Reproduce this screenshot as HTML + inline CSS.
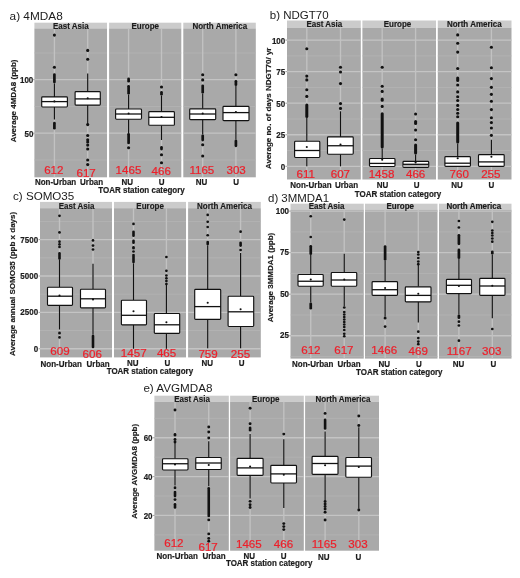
<!DOCTYPE html>
<html><head><meta charset="utf-8"><style>
html,body{margin:0;padding:0;background:#fff;}
svg{display:block;filter:blur(0.35px);}
text{font-family:"Liberation Sans", sans-serif;}
</style></head><body>
<svg width="520" height="578" viewBox="0 0 520 578">
<rect x="0" y="0" width="520" height="578" fill="#fff"/>
<text x="9.60" y="19.50" font-size="11.80" font-weight="normal" fill="#1c1c1c">a) 4MDA8</text>
<rect x="34.40" y="22.70" width="72.60" height="5.70" fill="#cbcbcb"/>
<rect x="34.40" y="28.40" width="72.60" height="148.90" fill="#a9a9a9"/>
<line x1="34.40" y1="159.95" x2="107.00" y2="159.95" stroke="#b6b6b6" stroke-width="0.7" stroke-linecap="butt"/>
<line x1="34.40" y1="106.45" x2="107.00" y2="106.45" stroke="#b6b6b6" stroke-width="0.7" stroke-linecap="butt"/>
<line x1="34.40" y1="52.95" x2="107.00" y2="52.95" stroke="#b6b6b6" stroke-width="0.7" stroke-linecap="butt"/>
<line x1="34.40" y1="133.20" x2="107.00" y2="133.20" stroke="#c4c4c4" stroke-width="1.3" stroke-linecap="butt"/>
<line x1="34.40" y1="79.70" x2="107.00" y2="79.70" stroke="#c4c4c4" stroke-width="1.3" stroke-linecap="butt"/>
<line x1="54.40" y1="28.40" x2="54.40" y2="177.30" stroke="#c2c2c2" stroke-width="1.35" stroke-linecap="butt"/>
<line x1="87.70" y1="28.40" x2="87.70" y2="177.30" stroke="#c2c2c2" stroke-width="1.35" stroke-linecap="butt"/>
<text transform="translate(53.00,28.60) scale(1,1.04)" x="0" y="0" font-size="8.00" font-weight="bold" fill="#1c1c1c" stroke="#1c1c1c" stroke-width="0.18">East Asia</text>
<rect x="109.10" y="22.70" width="72.20" height="5.70" fill="#cbcbcb"/>
<rect x="109.10" y="28.40" width="72.20" height="148.90" fill="#a9a9a9"/>
<line x1="109.10" y1="159.95" x2="181.30" y2="159.95" stroke="#b6b6b6" stroke-width="0.7" stroke-linecap="butt"/>
<line x1="109.10" y1="106.45" x2="181.30" y2="106.45" stroke="#b6b6b6" stroke-width="0.7" stroke-linecap="butt"/>
<line x1="109.10" y1="52.95" x2="181.30" y2="52.95" stroke="#b6b6b6" stroke-width="0.7" stroke-linecap="butt"/>
<line x1="109.10" y1="133.20" x2="181.30" y2="133.20" stroke="#c4c4c4" stroke-width="1.3" stroke-linecap="butt"/>
<line x1="109.10" y1="79.70" x2="181.30" y2="79.70" stroke="#c4c4c4" stroke-width="1.3" stroke-linecap="butt"/>
<line x1="128.60" y1="28.40" x2="128.60" y2="177.30" stroke="#c2c2c2" stroke-width="1.35" stroke-linecap="butt"/>
<line x1="161.50" y1="28.40" x2="161.50" y2="177.30" stroke="#c2c2c2" stroke-width="1.35" stroke-linecap="butt"/>
<text transform="translate(131.49,28.50) scale(1,1.04)" x="0" y="0" font-size="8.00" font-weight="bold" fill="#1c1c1c" stroke="#1c1c1c" stroke-width="0.18">Europe</text>
<rect x="183.30" y="22.70" width="72.50" height="5.70" fill="#cbcbcb"/>
<rect x="183.30" y="28.40" width="72.50" height="148.90" fill="#a9a9a9"/>
<line x1="183.30" y1="159.95" x2="255.80" y2="159.95" stroke="#b6b6b6" stroke-width="0.7" stroke-linecap="butt"/>
<line x1="183.30" y1="106.45" x2="255.80" y2="106.45" stroke="#b6b6b6" stroke-width="0.7" stroke-linecap="butt"/>
<line x1="183.30" y1="52.95" x2="255.80" y2="52.95" stroke="#b6b6b6" stroke-width="0.7" stroke-linecap="butt"/>
<line x1="183.30" y1="133.20" x2="255.80" y2="133.20" stroke="#c4c4c4" stroke-width="1.3" stroke-linecap="butt"/>
<line x1="183.30" y1="79.70" x2="255.80" y2="79.70" stroke="#c4c4c4" stroke-width="1.3" stroke-linecap="butt"/>
<line x1="202.70" y1="28.40" x2="202.70" y2="177.30" stroke="#c2c2c2" stroke-width="1.35" stroke-linecap="butt"/>
<line x1="235.90" y1="28.40" x2="235.90" y2="177.30" stroke="#c2c2c2" stroke-width="1.35" stroke-linecap="butt"/>
<text transform="translate(192.39,28.60) scale(1,1.04)" x="0" y="0" font-size="8.00" font-weight="bold" fill="#1c1c1c" stroke="#1c1c1c" stroke-width="0.18">North America</text>
<text transform="translate(19.98,83.10) scale(1,1.04)" x="0" y="0" font-size="8.00" font-weight="bold" fill="#1c1c1c" stroke="#1c1c1c" stroke-width="0.18">100</text>
<line x1="32.80" y1="79.70" x2="34.40" y2="79.70" stroke="#8a8a8a" stroke-width="0.8" stroke-linecap="butt"/>
<text transform="translate(24.43,136.60) scale(1,1.04)" x="0" y="0" font-size="8.00" font-weight="bold" fill="#1c1c1c" stroke="#1c1c1c" stroke-width="0.18">50</text>
<line x1="32.80" y1="133.20" x2="34.40" y2="133.20" stroke="#8a8a8a" stroke-width="0.8" stroke-linecap="butt"/>
<text transform="translate(15.50,142.31) rotate(-90) scale(1,1.0)" x="0" y="0" font-size="8.00" font-weight="bold" fill="#1c1c1c" stroke="#1c1c1c" stroke-width="0.18">Average 4MDA8 (ppb)</text>
<line x1="54.40" y1="83.40" x2="54.40" y2="96.90" stroke="#111111" stroke-width="1.15" stroke-linecap="butt"/>
<line x1="54.40" y1="107.00" x2="54.40" y2="119.50" stroke="#111111" stroke-width="1.15" stroke-linecap="butt"/>
<line x1="54.40" y1="74.55" x2="54.40" y2="82.05" stroke="#111111" stroke-width="2.7" stroke-linecap="round"/>
<circle cx="54.40" cy="67.30" r="1.55" fill="#111111"/>
<circle cx="54.40" cy="35.10" r="1.55" fill="#111111"/>
<line x1="54.40" y1="123.15" x2="54.40" y2="128.25" stroke="#111111" stroke-width="2.7" stroke-linecap="round"/>
<rect x="41.70" y="96.90" width="25.70" height="10.10" rx="0.9" fill="#fff" stroke="#111111" stroke-width="1.15" stroke-linejoin="round"/>
<line x1="41.70" y1="101.60" x2="67.40" y2="101.60" stroke="#111111" stroke-width="1.2999999999999998" stroke-linecap="butt"/>
<circle cx="54.40" cy="101.40" r="1.05" fill="#111111"/>
<line x1="87.70" y1="73.60" x2="87.70" y2="91.60" stroke="#111111" stroke-width="1.15" stroke-linecap="butt"/>
<line x1="87.70" y1="105.10" x2="87.70" y2="125.00" stroke="#111111" stroke-width="1.15" stroke-linecap="butt"/>
<circle cx="87.70" cy="59.20" r="1.55" fill="#111111"/>
<circle cx="87.70" cy="50.40" r="1.55" fill="#111111"/>
<circle cx="87.70" cy="124.60" r="1.55" fill="#111111"/>
<circle cx="87.70" cy="135.50" r="1.55" fill="#111111"/>
<circle cx="87.70" cy="139.70" r="1.55" fill="#111111"/>
<circle cx="87.70" cy="142.00" r="1.55" fill="#111111"/>
<circle cx="87.70" cy="145.10" r="1.55" fill="#111111"/>
<circle cx="87.70" cy="149.00" r="1.55" fill="#111111"/>
<circle cx="87.70" cy="160.00" r="1.55" fill="#111111"/>
<circle cx="87.70" cy="164.60" r="1.55" fill="#111111"/>
<rect x="75.10" y="91.60" width="25.20" height="13.50" rx="0.9" fill="#fff" stroke="#111111" stroke-width="1.15" stroke-linejoin="round"/>
<line x1="75.10" y1="98.90" x2="100.30" y2="98.90" stroke="#111111" stroke-width="1.2999999999999998" stroke-linecap="butt"/>
<circle cx="87.70" cy="98.30" r="1.05" fill="#111111"/>
<line x1="128.60" y1="94.60" x2="128.60" y2="109.00" stroke="#111111" stroke-width="1.15" stroke-linecap="butt"/>
<line x1="128.60" y1="119.20" x2="128.60" y2="133.00" stroke="#111111" stroke-width="1.15" stroke-linecap="butt"/>
<line x1="128.60" y1="78.85" x2="128.60" y2="81.15" stroke="#111111" stroke-width="2.7" stroke-linecap="round"/>
<line x1="128.60" y1="86.35" x2="128.60" y2="93.25" stroke="#111111" stroke-width="2.7" stroke-linecap="round"/>
<line x1="128.60" y1="134.35" x2="128.60" y2="142.95" stroke="#111111" stroke-width="2.7" stroke-linecap="round"/>
<circle cx="128.60" cy="147.80" r="1.55" fill="#111111"/>
<rect x="115.60" y="109.00" width="25.90" height="10.20" rx="0.9" fill="#fff" stroke="#111111" stroke-width="1.15" stroke-linejoin="round"/>
<line x1="115.60" y1="114.00" x2="141.50" y2="114.00" stroke="#111111" stroke-width="1.2999999999999998" stroke-linecap="butt"/>
<circle cx="128.60" cy="113.50" r="1.05" fill="#111111"/>
<line x1="161.50" y1="95.50" x2="161.50" y2="111.60" stroke="#111111" stroke-width="1.15" stroke-linecap="butt"/>
<line x1="161.50" y1="125.30" x2="161.50" y2="140.00" stroke="#111111" stroke-width="1.15" stroke-linecap="butt"/>
<circle cx="161.50" cy="87.00" r="1.55" fill="#111111"/>
<line x1="161.50" y1="92.35" x2="161.50" y2="94.15" stroke="#111111" stroke-width="2.7" stroke-linecap="round"/>
<line x1="161.50" y1="147.35" x2="161.50" y2="149.05" stroke="#111111" stroke-width="2.7" stroke-linecap="round"/>
<circle cx="161.50" cy="154.70" r="1.55" fill="#111111"/>
<circle cx="161.50" cy="162.80" r="1.55" fill="#111111"/>
<rect x="148.80" y="111.60" width="25.60" height="13.70" rx="0.9" fill="#fff" stroke="#111111" stroke-width="1.15" stroke-linejoin="round"/>
<line x1="148.80" y1="117.30" x2="174.40" y2="117.30" stroke="#111111" stroke-width="1.2999999999999998" stroke-linecap="butt"/>
<circle cx="161.50" cy="117.00" r="1.05" fill="#111111"/>
<line x1="202.70" y1="93.70" x2="202.70" y2="108.80" stroke="#111111" stroke-width="1.15" stroke-linecap="butt"/>
<line x1="202.70" y1="119.60" x2="202.70" y2="134.40" stroke="#111111" stroke-width="1.15" stroke-linecap="butt"/>
<circle cx="202.70" cy="74.70" r="1.55" fill="#111111"/>
<circle cx="202.70" cy="79.90" r="1.55" fill="#111111"/>
<line x1="202.70" y1="85.85" x2="202.70" y2="92.35" stroke="#111111" stroke-width="2.7" stroke-linecap="round"/>
<line x1="202.70" y1="135.75" x2="202.70" y2="140.05" stroke="#111111" stroke-width="2.7" stroke-linecap="round"/>
<circle cx="202.70" cy="144.70" r="1.55" fill="#111111"/>
<circle cx="202.70" cy="156.00" r="1.55" fill="#111111"/>
<rect x="189.70" y="108.80" width="26.00" height="10.80" rx="0.9" fill="#fff" stroke="#111111" stroke-width="1.15" stroke-linejoin="round"/>
<line x1="189.70" y1="114.00" x2="215.70" y2="114.00" stroke="#111111" stroke-width="1.2999999999999998" stroke-linecap="butt"/>
<circle cx="202.70" cy="113.50" r="1.05" fill="#111111"/>
<line x1="235.90" y1="86.00" x2="235.90" y2="106.40" stroke="#111111" stroke-width="1.15" stroke-linecap="butt"/>
<line x1="235.90" y1="120.60" x2="235.90" y2="139.60" stroke="#111111" stroke-width="1.15" stroke-linecap="butt"/>
<circle cx="235.90" cy="74.70" r="1.55" fill="#111111"/>
<line x1="235.90" y1="81.35" x2="235.90" y2="84.65" stroke="#111111" stroke-width="2.7" stroke-linecap="round"/>
<line x1="235.90" y1="140.95" x2="235.90" y2="145.85" stroke="#111111" stroke-width="2.7" stroke-linecap="round"/>
<rect x="223.00" y="106.40" width="26.00" height="14.20" rx="0.9" fill="#fff" stroke="#111111" stroke-width="1.15" stroke-linejoin="round"/>
<line x1="223.00" y1="112.60" x2="249.00" y2="112.60" stroke="#111111" stroke-width="1.2999999999999998" stroke-linecap="butt"/>
<circle cx="235.90" cy="112.00" r="1.05" fill="#111111"/>
<text transform="translate(44.17,173.80) scale(1,1.02)" x="0" y="0" font-size="11.60" font-weight="normal" fill="#ee1f2a" stroke="#ee1f2a" stroke-width="0.22">612</text>
<text transform="translate(76.47,176.80) scale(1,1.02)" x="0" y="0" font-size="11.60" font-weight="normal" fill="#ee1f2a" stroke="#ee1f2a" stroke-width="0.22">617</text>
<text transform="translate(115.60,174.20) scale(1,1.02)" x="0" y="0" font-size="11.60" font-weight="normal" fill="#ee1f2a" stroke="#ee1f2a" stroke-width="0.22">1465</text>
<text transform="translate(151.54,175.00) scale(1,1.02)" x="0" y="0" font-size="11.60" font-weight="normal" fill="#ee1f2a" stroke="#ee1f2a" stroke-width="0.22">466</text>
<text transform="translate(189.40,173.70) scale(1,1.02)" x="0" y="0" font-size="11.60" font-weight="normal" fill="#ee1f2a" stroke="#ee1f2a" stroke-width="0.22">1165</text>
<text transform="translate(226.46,174.00) scale(1,1.02)" x="0" y="0" font-size="11.60" font-weight="normal" fill="#ee1f2a" stroke="#ee1f2a" stroke-width="0.22">303</text>
<text transform="translate(34.92,184.90) scale(1,1.04)" x="0" y="0" font-size="8.00" font-weight="bold" fill="#1c1c1c" stroke="#1c1c1c" stroke-width="0.18">Non-Urban</text>
<text transform="translate(80.00,184.90) scale(1,1.04)" x="0" y="0" font-size="8.00" font-weight="bold" fill="#1c1c1c" stroke="#1c1c1c" stroke-width="0.18">Urban</text>
<text transform="translate(121.40,185.20) scale(1,1.04)" x="0" y="0" font-size="8.00" font-weight="bold" fill="#1c1c1c" stroke="#1c1c1c" stroke-width="0.18">NU</text>
<text transform="translate(158.72,185.20) scale(1,1.04)" x="0" y="0" font-size="8.00" font-weight="bold" fill="#1c1c1c" stroke="#1c1c1c" stroke-width="0.18">U</text>
<text transform="translate(195.80,185.40) scale(1,1.04)" x="0" y="0" font-size="8.00" font-weight="bold" fill="#1c1c1c" stroke="#1c1c1c" stroke-width="0.18">NU</text>
<text transform="translate(233.22,185.40) scale(1,1.04)" x="0" y="0" font-size="8.00" font-weight="bold" fill="#1c1c1c" stroke="#1c1c1c" stroke-width="0.18">U</text>
<text transform="translate(98.29,193.40) scale(1,1.04)" x="0" y="0" font-size="8.00" font-weight="bold" fill="#1c1c1c" stroke="#1c1c1c" stroke-width="0.18">TOAR station category</text>
<text x="269.81" y="18.90" font-size="11.50" font-weight="normal" fill="#1c1c1c">b) NDGT70</text>
<rect x="287.00" y="20.50" width="73.80" height="7.20" fill="#cbcbcb"/>
<rect x="287.00" y="27.70" width="73.80" height="151.80" fill="#a9a9a9"/>
<line x1="287.00" y1="150.53" x2="360.80" y2="150.53" stroke="#b6b6b6" stroke-width="0.7" stroke-linecap="butt"/>
<line x1="287.00" y1="118.98" x2="360.80" y2="118.98" stroke="#b6b6b6" stroke-width="0.7" stroke-linecap="butt"/>
<line x1="287.00" y1="87.43" x2="360.80" y2="87.43" stroke="#b6b6b6" stroke-width="0.7" stroke-linecap="butt"/>
<line x1="287.00" y1="55.88" x2="360.80" y2="55.88" stroke="#b6b6b6" stroke-width="0.7" stroke-linecap="butt"/>
<line x1="287.00" y1="166.30" x2="360.80" y2="166.30" stroke="#c4c4c4" stroke-width="1.3" stroke-linecap="butt"/>
<line x1="287.00" y1="134.75" x2="360.80" y2="134.75" stroke="#c4c4c4" stroke-width="1.3" stroke-linecap="butt"/>
<line x1="287.00" y1="103.20" x2="360.80" y2="103.20" stroke="#c4c4c4" stroke-width="1.3" stroke-linecap="butt"/>
<line x1="287.00" y1="71.65" x2="360.80" y2="71.65" stroke="#c4c4c4" stroke-width="1.3" stroke-linecap="butt"/>
<line x1="287.00" y1="40.10" x2="360.80" y2="40.10" stroke="#c4c4c4" stroke-width="1.3" stroke-linecap="butt"/>
<line x1="306.80" y1="27.70" x2="306.80" y2="179.50" stroke="#c2c2c2" stroke-width="1.35" stroke-linecap="butt"/>
<line x1="340.50" y1="27.70" x2="340.50" y2="179.50" stroke="#c2c2c2" stroke-width="1.35" stroke-linecap="butt"/>
<text transform="translate(306.50,26.80) scale(1,1.04)" x="0" y="0" font-size="8.00" font-weight="bold" fill="#1c1c1c" stroke="#1c1c1c" stroke-width="0.18">East Asia</text>
<rect x="362.40" y="20.50" width="73.60" height="7.20" fill="#cbcbcb"/>
<rect x="362.40" y="27.70" width="73.60" height="151.80" fill="#a9a9a9"/>
<line x1="362.40" y1="150.53" x2="436.00" y2="150.53" stroke="#b6b6b6" stroke-width="0.7" stroke-linecap="butt"/>
<line x1="362.40" y1="118.98" x2="436.00" y2="118.98" stroke="#b6b6b6" stroke-width="0.7" stroke-linecap="butt"/>
<line x1="362.40" y1="87.43" x2="436.00" y2="87.43" stroke="#b6b6b6" stroke-width="0.7" stroke-linecap="butt"/>
<line x1="362.40" y1="55.88" x2="436.00" y2="55.88" stroke="#b6b6b6" stroke-width="0.7" stroke-linecap="butt"/>
<line x1="362.40" y1="166.30" x2="436.00" y2="166.30" stroke="#c4c4c4" stroke-width="1.3" stroke-linecap="butt"/>
<line x1="362.40" y1="134.75" x2="436.00" y2="134.75" stroke="#c4c4c4" stroke-width="1.3" stroke-linecap="butt"/>
<line x1="362.40" y1="103.20" x2="436.00" y2="103.20" stroke="#c4c4c4" stroke-width="1.3" stroke-linecap="butt"/>
<line x1="362.40" y1="71.65" x2="436.00" y2="71.65" stroke="#c4c4c4" stroke-width="1.3" stroke-linecap="butt"/>
<line x1="362.40" y1="40.10" x2="436.00" y2="40.10" stroke="#c4c4c4" stroke-width="1.3" stroke-linecap="butt"/>
<line x1="382.20" y1="27.70" x2="382.20" y2="179.50" stroke="#c2c2c2" stroke-width="1.35" stroke-linecap="butt"/>
<line x1="415.60" y1="27.70" x2="415.60" y2="179.50" stroke="#c2c2c2" stroke-width="1.35" stroke-linecap="butt"/>
<text transform="translate(383.74,26.80) scale(1,1.04)" x="0" y="0" font-size="8.00" font-weight="bold" fill="#1c1c1c" stroke="#1c1c1c" stroke-width="0.18">Europe</text>
<rect x="437.80" y="20.50" width="73.70" height="7.20" fill="#cbcbcb"/>
<rect x="437.80" y="27.70" width="73.70" height="151.80" fill="#a9a9a9"/>
<line x1="437.80" y1="150.53" x2="511.50" y2="150.53" stroke="#b6b6b6" stroke-width="0.7" stroke-linecap="butt"/>
<line x1="437.80" y1="118.98" x2="511.50" y2="118.98" stroke="#b6b6b6" stroke-width="0.7" stroke-linecap="butt"/>
<line x1="437.80" y1="87.43" x2="511.50" y2="87.43" stroke="#b6b6b6" stroke-width="0.7" stroke-linecap="butt"/>
<line x1="437.80" y1="55.88" x2="511.50" y2="55.88" stroke="#b6b6b6" stroke-width="0.7" stroke-linecap="butt"/>
<line x1="437.80" y1="166.30" x2="511.50" y2="166.30" stroke="#c4c4c4" stroke-width="1.3" stroke-linecap="butt"/>
<line x1="437.80" y1="134.75" x2="511.50" y2="134.75" stroke="#c4c4c4" stroke-width="1.3" stroke-linecap="butt"/>
<line x1="437.80" y1="103.20" x2="511.50" y2="103.20" stroke="#c4c4c4" stroke-width="1.3" stroke-linecap="butt"/>
<line x1="437.80" y1="71.65" x2="511.50" y2="71.65" stroke="#c4c4c4" stroke-width="1.3" stroke-linecap="butt"/>
<line x1="437.80" y1="40.10" x2="511.50" y2="40.10" stroke="#c4c4c4" stroke-width="1.3" stroke-linecap="butt"/>
<line x1="457.70" y1="27.70" x2="457.70" y2="179.50" stroke="#c2c2c2" stroke-width="1.35" stroke-linecap="butt"/>
<line x1="491.40" y1="27.70" x2="491.40" y2="179.50" stroke="#c2c2c2" stroke-width="1.35" stroke-linecap="butt"/>
<text transform="translate(446.94,26.80) scale(1,1.04)" x="0" y="0" font-size="8.00" font-weight="bold" fill="#1c1c1c" stroke="#1c1c1c" stroke-width="0.18">North America</text>
<text transform="translate(280.78,169.80) scale(1,1.04)" x="0" y="0" font-size="8.00" font-weight="bold" fill="#1c1c1c" stroke="#1c1c1c" stroke-width="0.18">0</text>
<line x1="285.40" y1="166.30" x2="287.00" y2="166.30" stroke="#8a8a8a" stroke-width="0.8" stroke-linecap="butt"/>
<text transform="translate(276.22,138.25) scale(1,1.04)" x="0" y="0" font-size="8.00" font-weight="bold" fill="#1c1c1c" stroke="#1c1c1c" stroke-width="0.18">25</text>
<line x1="285.40" y1="134.75" x2="287.00" y2="134.75" stroke="#8a8a8a" stroke-width="0.8" stroke-linecap="butt"/>
<text transform="translate(276.33,106.70) scale(1,1.04)" x="0" y="0" font-size="8.00" font-weight="bold" fill="#1c1c1c" stroke="#1c1c1c" stroke-width="0.18">50</text>
<line x1="285.40" y1="103.20" x2="287.00" y2="103.20" stroke="#8a8a8a" stroke-width="0.8" stroke-linecap="butt"/>
<text transform="translate(276.22,75.15) scale(1,1.04)" x="0" y="0" font-size="8.00" font-weight="bold" fill="#1c1c1c" stroke="#1c1c1c" stroke-width="0.18">75</text>
<line x1="285.40" y1="71.65" x2="287.00" y2="71.65" stroke="#8a8a8a" stroke-width="0.8" stroke-linecap="butt"/>
<text transform="translate(271.88,43.60) scale(1,1.04)" x="0" y="0" font-size="8.00" font-weight="bold" fill="#1c1c1c" stroke="#1c1c1c" stroke-width="0.18">100</text>
<line x1="285.40" y1="40.10" x2="287.00" y2="40.10" stroke="#8a8a8a" stroke-width="0.8" stroke-linecap="butt"/>
<text transform="translate(270.90,169.05) rotate(-90) scale(1,1.0)" x="0" y="0" font-size="8.00" font-weight="bold" fill="#1c1c1c" stroke="#1c1c1c" stroke-width="0.18">Average no. of days NDGT70/ yr</text>
<line x1="306.80" y1="118.10" x2="306.80" y2="141.25" stroke="#111111" stroke-width="1.15" stroke-linecap="butt"/>
<line x1="306.80" y1="157.50" x2="306.80" y2="166.30" stroke="#111111" stroke-width="1.15" stroke-linecap="butt"/>
<circle cx="306.80" cy="48.70" r="1.55" fill="#111111"/>
<circle cx="306.80" cy="76.10" r="1.55" fill="#111111"/>
<circle cx="306.80" cy="79.90" r="1.55" fill="#111111"/>
<circle cx="306.80" cy="89.75" r="1.55" fill="#111111"/>
<circle cx="306.80" cy="96.40" r="1.55" fill="#111111"/>
<line x1="306.80" y1="105.10" x2="306.80" y2="116.60" stroke="#111111" stroke-width="3.0" stroke-linecap="round"/>
<rect x="294.60" y="141.25" width="25.20" height="16.25" rx="0.9" fill="#fff" stroke="#111111" stroke-width="1.15" stroke-linejoin="round"/>
<line x1="294.60" y1="150.50" x2="319.80" y2="150.50" stroke="#111111" stroke-width="1.2999999999999998" stroke-linecap="butt"/>
<circle cx="306.80" cy="147.00" r="1.05" fill="#111111"/>
<line x1="340.50" y1="111.30" x2="340.50" y2="136.90" stroke="#111111" stroke-width="1.15" stroke-linecap="butt"/>
<line x1="340.50" y1="154.25" x2="340.50" y2="166.30" stroke="#111111" stroke-width="1.15" stroke-linecap="butt"/>
<circle cx="340.50" cy="67.30" r="1.55" fill="#111111"/>
<circle cx="340.50" cy="72.00" r="1.55" fill="#111111"/>
<circle cx="340.50" cy="83.60" r="1.55" fill="#111111"/>
<circle cx="340.50" cy="103.60" r="1.55" fill="#111111"/>
<circle cx="340.50" cy="108.40" r="1.55" fill="#111111"/>
<rect x="327.50" y="136.90" width="25.75" height="17.35" rx="0.9" fill="#fff" stroke="#111111" stroke-width="1.15" stroke-linejoin="round"/>
<line x1="327.50" y1="145.75" x2="353.25" y2="145.75" stroke="#111111" stroke-width="1.2999999999999998" stroke-linecap="butt"/>
<circle cx="340.50" cy="144.50" r="1.05" fill="#111111"/>
<line x1="382.20" y1="148.40" x2="382.20" y2="158.50" stroke="#111111" stroke-width="1.15" stroke-linecap="butt"/>
<line x1="382.20" y1="166.50" x2="382.20" y2="166.50" stroke="#111111" stroke-width="1.15" stroke-linecap="butt"/>
<circle cx="382.20" cy="67.30" r="1.55" fill="#111111"/>
<circle cx="382.20" cy="86.20" r="1.55" fill="#111111"/>
<circle cx="382.20" cy="91.40" r="1.55" fill="#111111"/>
<line x1="382.20" y1="99.00" x2="382.20" y2="100.20" stroke="#111111" stroke-width="3.0" stroke-linecap="round"/>
<line x1="382.20" y1="106.20" x2="382.20" y2="106.40" stroke="#111111" stroke-width="3.0" stroke-linecap="round"/>
<line x1="382.20" y1="113.80" x2="382.20" y2="146.90" stroke="#111111" stroke-width="3.0" stroke-linecap="round"/>
<rect x="369.50" y="158.50" width="25.50" height="8.00" rx="0.9" fill="#fff" stroke="#111111" stroke-width="1.15" stroke-linejoin="round"/>
<line x1="369.50" y1="163.40" x2="395.00" y2="163.40" stroke="#111111" stroke-width="1.2999999999999998" stroke-linecap="butt"/>
<circle cx="382.20" cy="159.80" r="1.05" fill="#111111"/>
<line x1="415.60" y1="154.50" x2="415.60" y2="161.30" stroke="#111111" stroke-width="1.15" stroke-linecap="butt"/>
<line x1="415.60" y1="167.40" x2="415.60" y2="167.40" stroke="#111111" stroke-width="1.15" stroke-linecap="butt"/>
<circle cx="415.60" cy="114.00" r="1.55" fill="#111111"/>
<line x1="415.60" y1="121.60" x2="415.60" y2="123.50" stroke="#111111" stroke-width="3.0" stroke-linecap="round"/>
<circle cx="415.60" cy="129.95" r="1.55" fill="#111111"/>
<circle cx="415.60" cy="139.80" r="1.55" fill="#111111"/>
<line x1="415.60" y1="145.00" x2="415.60" y2="153.00" stroke="#111111" stroke-width="3.0" stroke-linecap="round"/>
<rect x="403.00" y="161.30" width="25.70" height="6.10" rx="0.9" fill="#fff" stroke="#111111" stroke-width="1.15" stroke-linejoin="round"/>
<rect x="403.60" y="164.30" width="24.50" height="2.50" fill="#b3b3b3"/>
<line x1="403.00" y1="164.30" x2="428.70" y2="164.30" stroke="#111111" stroke-width="1.2999999999999998" stroke-linecap="butt"/>
<circle cx="415.60" cy="162.40" r="1.05" fill="#111111"/>
<line x1="457.70" y1="143.50" x2="457.70" y2="156.60" stroke="#111111" stroke-width="1.15" stroke-linecap="butt"/>
<line x1="457.70" y1="166.30" x2="457.70" y2="166.30" stroke="#111111" stroke-width="1.15" stroke-linecap="butt"/>
<circle cx="457.70" cy="34.90" r="1.55" fill="#111111"/>
<circle cx="457.70" cy="43.20" r="1.55" fill="#111111"/>
<circle cx="457.70" cy="52.10" r="1.55" fill="#111111"/>
<circle cx="457.70" cy="68.55" r="1.55" fill="#111111"/>
<line x1="457.70" y1="77.90" x2="457.70" y2="80.60" stroke="#111111" stroke-width="3.0" stroke-linecap="round"/>
<circle cx="457.70" cy="85.00" r="1.55" fill="#111111"/>
<circle cx="457.70" cy="91.90" r="1.55" fill="#111111"/>
<circle cx="457.70" cy="96.80" r="1.55" fill="#111111"/>
<circle cx="457.70" cy="100.50" r="1.55" fill="#111111"/>
<circle cx="457.70" cy="105.40" r="1.55" fill="#111111"/>
<circle cx="457.70" cy="109.50" r="1.55" fill="#111111"/>
<circle cx="457.70" cy="113.20" r="1.55" fill="#111111"/>
<circle cx="457.70" cy="116.80" r="1.55" fill="#111111"/>
<line x1="457.70" y1="122.90" x2="457.70" y2="142.00" stroke="#111111" stroke-width="3.0" stroke-linecap="round"/>
<rect x="444.90" y="156.60" width="25.50" height="9.70" rx="0.9" fill="#fff" stroke="#111111" stroke-width="1.15" stroke-linejoin="round"/>
<line x1="444.90" y1="163.20" x2="470.40" y2="163.20" stroke="#111111" stroke-width="1.2999999999999998" stroke-linecap="butt"/>
<circle cx="457.70" cy="158.30" r="1.05" fill="#111111"/>
<line x1="491.40" y1="139.80" x2="491.40" y2="154.60" stroke="#111111" stroke-width="1.15" stroke-linecap="butt"/>
<line x1="491.40" y1="166.30" x2="491.40" y2="166.30" stroke="#111111" stroke-width="1.15" stroke-linecap="butt"/>
<circle cx="491.40" cy="47.20" r="1.55" fill="#111111"/>
<circle cx="491.40" cy="67.80" r="1.55" fill="#111111"/>
<circle cx="491.40" cy="78.60" r="1.55" fill="#111111"/>
<circle cx="491.40" cy="87.35" r="1.55" fill="#111111"/>
<circle cx="491.40" cy="94.35" r="1.55" fill="#111111"/>
<circle cx="491.40" cy="101.20" r="1.55" fill="#111111"/>
<circle cx="491.40" cy="109.60" r="1.55" fill="#111111"/>
<circle cx="491.40" cy="117.70" r="1.55" fill="#111111"/>
<circle cx="491.40" cy="122.60" r="1.55" fill="#111111"/>
<circle cx="491.40" cy="128.00" r="1.55" fill="#111111"/>
<circle cx="491.40" cy="135.35" r="1.55" fill="#111111"/>
<rect x="478.50" y="154.60" width="25.70" height="11.70" rx="0.9" fill="#fff" stroke="#111111" stroke-width="1.15" stroke-linejoin="round"/>
<line x1="478.50" y1="161.90" x2="504.20" y2="161.90" stroke="#111111" stroke-width="1.2999999999999998" stroke-linecap="butt"/>
<circle cx="491.40" cy="156.80" r="1.05" fill="#111111"/>
<text transform="translate(296.56,178.00) scale(1,1.02)" x="0" y="0" font-size="11.60" font-weight="normal" fill="#ee1f2a" stroke="#ee1f2a" stroke-width="0.22">611</text>
<text transform="translate(330.70,178.00) scale(1,1.02)" x="0" y="0" font-size="11.60" font-weight="normal" fill="#ee1f2a" stroke="#ee1f2a" stroke-width="0.22">607</text>
<text transform="translate(368.66,178.30) scale(1,1.02)" x="0" y="0" font-size="11.60" font-weight="normal" fill="#ee1f2a" stroke="#ee1f2a" stroke-width="0.22">1458</text>
<text transform="translate(405.94,178.30) scale(1,1.02)" x="0" y="0" font-size="11.60" font-weight="normal" fill="#ee1f2a" stroke="#ee1f2a" stroke-width="0.22">466</text>
<text transform="translate(449.50,177.70) scale(1,1.02)" x="0" y="0" font-size="11.60" font-weight="normal" fill="#ee1f2a" stroke="#ee1f2a" stroke-width="0.22">760</text>
<text transform="translate(481.17,177.70) scale(1,1.02)" x="0" y="0" font-size="11.60" font-weight="normal" fill="#ee1f2a" stroke="#ee1f2a" stroke-width="0.22">255</text>
<text transform="translate(290.32,188.00) scale(1,1.04)" x="0" y="0" font-size="8.00" font-weight="bold" fill="#1c1c1c" stroke="#1c1c1c" stroke-width="0.18">Non-Urban</text>
<text transform="translate(334.95,188.00) scale(1,1.04)" x="0" y="0" font-size="8.00" font-weight="bold" fill="#1c1c1c" stroke="#1c1c1c" stroke-width="0.18">Urban</text>
<text transform="translate(376.75,188.10) scale(1,1.04)" x="0" y="0" font-size="8.00" font-weight="bold" fill="#1c1c1c" stroke="#1c1c1c" stroke-width="0.18">NU</text>
<text transform="translate(413.87,188.10) scale(1,1.04)" x="0" y="0" font-size="8.00" font-weight="bold" fill="#1c1c1c" stroke="#1c1c1c" stroke-width="0.18">U</text>
<text transform="translate(451.30,188.10) scale(1,1.04)" x="0" y="0" font-size="8.00" font-weight="bold" fill="#1c1c1c" stroke="#1c1c1c" stroke-width="0.18">NU</text>
<text transform="translate(488.42,188.10) scale(1,1.04)" x="0" y="0" font-size="8.00" font-weight="bold" fill="#1c1c1c" stroke="#1c1c1c" stroke-width="0.18">U</text>
<text transform="translate(354.84,196.90) scale(1,1.04)" x="0" y="0" font-size="8.00" font-weight="bold" fill="#1c1c1c" stroke="#1c1c1c" stroke-width="0.18">TOAR station category</text>
<text x="13.01" y="199.60" font-size="11.61" font-weight="normal" fill="#1c1c1c">c) SOMO35</text>
<rect x="40.00" y="201.90" width="72.00" height="6.30" fill="#cbcbcb"/>
<rect x="40.00" y="208.20" width="72.00" height="149.20" fill="#a9a9a9"/>
<line x1="40.00" y1="330.56" x2="112.00" y2="330.56" stroke="#b6b6b6" stroke-width="0.7" stroke-linecap="butt"/>
<line x1="40.00" y1="294.19" x2="112.00" y2="294.19" stroke="#b6b6b6" stroke-width="0.7" stroke-linecap="butt"/>
<line x1="40.00" y1="257.81" x2="112.00" y2="257.81" stroke="#b6b6b6" stroke-width="0.7" stroke-linecap="butt"/>
<line x1="40.00" y1="221.44" x2="112.00" y2="221.44" stroke="#b6b6b6" stroke-width="0.7" stroke-linecap="butt"/>
<line x1="40.00" y1="348.75" x2="112.00" y2="348.75" stroke="#c4c4c4" stroke-width="1.3" stroke-linecap="butt"/>
<line x1="40.00" y1="312.38" x2="112.00" y2="312.38" stroke="#c4c4c4" stroke-width="1.3" stroke-linecap="butt"/>
<line x1="40.00" y1="276.00" x2="112.00" y2="276.00" stroke="#c4c4c4" stroke-width="1.3" stroke-linecap="butt"/>
<line x1="40.00" y1="239.62" x2="112.00" y2="239.62" stroke="#c4c4c4" stroke-width="1.3" stroke-linecap="butt"/>
<line x1="59.50" y1="208.20" x2="59.50" y2="357.40" stroke="#c2c2c2" stroke-width="1.35" stroke-linecap="butt"/>
<line x1="93.00" y1="208.20" x2="93.00" y2="357.40" stroke="#c2c2c2" stroke-width="1.35" stroke-linecap="butt"/>
<text transform="translate(58.70,208.60) scale(1,1.04)" x="0" y="0" font-size="8.00" font-weight="bold" fill="#1c1c1c" stroke="#1c1c1c" stroke-width="0.18">East Asia</text>
<rect x="114.00" y="201.90" width="72.00" height="6.30" fill="#cbcbcb"/>
<rect x="114.00" y="208.20" width="72.00" height="149.20" fill="#a9a9a9"/>
<line x1="114.00" y1="330.56" x2="186.00" y2="330.56" stroke="#b6b6b6" stroke-width="0.7" stroke-linecap="butt"/>
<line x1="114.00" y1="294.19" x2="186.00" y2="294.19" stroke="#b6b6b6" stroke-width="0.7" stroke-linecap="butt"/>
<line x1="114.00" y1="257.81" x2="186.00" y2="257.81" stroke="#b6b6b6" stroke-width="0.7" stroke-linecap="butt"/>
<line x1="114.00" y1="221.44" x2="186.00" y2="221.44" stroke="#b6b6b6" stroke-width="0.7" stroke-linecap="butt"/>
<line x1="114.00" y1="348.75" x2="186.00" y2="348.75" stroke="#c4c4c4" stroke-width="1.3" stroke-linecap="butt"/>
<line x1="114.00" y1="312.38" x2="186.00" y2="312.38" stroke="#c4c4c4" stroke-width="1.3" stroke-linecap="butt"/>
<line x1="114.00" y1="276.00" x2="186.00" y2="276.00" stroke="#c4c4c4" stroke-width="1.3" stroke-linecap="butt"/>
<line x1="114.00" y1="239.62" x2="186.00" y2="239.62" stroke="#c4c4c4" stroke-width="1.3" stroke-linecap="butt"/>
<line x1="133.50" y1="208.20" x2="133.50" y2="357.40" stroke="#c2c2c2" stroke-width="1.35" stroke-linecap="butt"/>
<line x1="166.40" y1="208.20" x2="166.40" y2="357.40" stroke="#c2c2c2" stroke-width="1.35" stroke-linecap="butt"/>
<text transform="translate(136.34,208.80) scale(1,1.04)" x="0" y="0" font-size="8.00" font-weight="bold" fill="#1c1c1c" stroke="#1c1c1c" stroke-width="0.18">Europe</text>
<rect x="188.10" y="201.90" width="72.70" height="6.30" fill="#cbcbcb"/>
<rect x="188.10" y="208.20" width="72.70" height="149.20" fill="#a9a9a9"/>
<line x1="188.10" y1="330.56" x2="260.80" y2="330.56" stroke="#b6b6b6" stroke-width="0.7" stroke-linecap="butt"/>
<line x1="188.10" y1="294.19" x2="260.80" y2="294.19" stroke="#b6b6b6" stroke-width="0.7" stroke-linecap="butt"/>
<line x1="188.10" y1="257.81" x2="260.80" y2="257.81" stroke="#b6b6b6" stroke-width="0.7" stroke-linecap="butt"/>
<line x1="188.10" y1="221.44" x2="260.80" y2="221.44" stroke="#b6b6b6" stroke-width="0.7" stroke-linecap="butt"/>
<line x1="188.10" y1="348.75" x2="260.80" y2="348.75" stroke="#c4c4c4" stroke-width="1.3" stroke-linecap="butt"/>
<line x1="188.10" y1="312.38" x2="260.80" y2="312.38" stroke="#c4c4c4" stroke-width="1.3" stroke-linecap="butt"/>
<line x1="188.10" y1="276.00" x2="260.80" y2="276.00" stroke="#c4c4c4" stroke-width="1.3" stroke-linecap="butt"/>
<line x1="188.10" y1="239.62" x2="260.80" y2="239.62" stroke="#c4c4c4" stroke-width="1.3" stroke-linecap="butt"/>
<line x1="207.70" y1="208.20" x2="207.70" y2="357.40" stroke="#c2c2c2" stroke-width="1.35" stroke-linecap="butt"/>
<line x1="240.60" y1="208.20" x2="240.60" y2="357.40" stroke="#c2c2c2" stroke-width="1.35" stroke-linecap="butt"/>
<text transform="translate(197.09,208.60) scale(1,1.04)" x="0" y="0" font-size="8.00" font-weight="bold" fill="#1c1c1c" stroke="#1c1c1c" stroke-width="0.18">North America</text>
<text transform="translate(33.68,351.65) scale(1,1.04)" x="0" y="0" font-size="8.00" font-weight="bold" fill="#1c1c1c" stroke="#1c1c1c" stroke-width="0.18">0</text>
<line x1="38.60" y1="348.75" x2="40.00" y2="348.75" stroke="#8a8a8a" stroke-width="0.8" stroke-linecap="butt"/>
<text transform="translate(20.33,315.27) scale(1,1.04)" x="0" y="0" font-size="8.00" font-weight="bold" fill="#1c1c1c" stroke="#1c1c1c" stroke-width="0.18">2500</text>
<line x1="38.60" y1="312.38" x2="40.00" y2="312.38" stroke="#8a8a8a" stroke-width="0.8" stroke-linecap="butt"/>
<text transform="translate(20.33,278.90) scale(1,1.04)" x="0" y="0" font-size="8.00" font-weight="bold" fill="#1c1c1c" stroke="#1c1c1c" stroke-width="0.18">5000</text>
<line x1="38.60" y1="276.00" x2="40.00" y2="276.00" stroke="#8a8a8a" stroke-width="0.8" stroke-linecap="butt"/>
<text transform="translate(20.33,242.53) scale(1,1.04)" x="0" y="0" font-size="8.00" font-weight="bold" fill="#1c1c1c" stroke="#1c1c1c" stroke-width="0.18">7500</text>
<line x1="38.60" y1="239.62" x2="40.00" y2="239.62" stroke="#8a8a8a" stroke-width="0.8" stroke-linecap="butt"/>
<text transform="translate(14.50,356.04) rotate(-90) scale(1,1.0)" x="0" y="0" font-size="8.00" font-weight="bold" fill="#1c1c1c" stroke="#1c1c1c" stroke-width="0.18">Average annual SOMO35 (ppb x days)</text>
<line x1="59.50" y1="259.90" x2="59.50" y2="287.20" stroke="#111111" stroke-width="1.15" stroke-linecap="butt"/>
<line x1="59.50" y1="305.30" x2="59.50" y2="329.50" stroke="#111111" stroke-width="1.15" stroke-linecap="butt"/>
<circle cx="59.50" cy="215.80" r="1.35" fill="#111111"/>
<circle cx="59.50" cy="232.40" r="1.35" fill="#111111"/>
<circle cx="59.50" cy="241.70" r="1.35" fill="#111111"/>
<circle cx="59.50" cy="244.30" r="1.35" fill="#111111"/>
<circle cx="59.50" cy="246.90" r="1.35" fill="#111111"/>
<line x1="59.50" y1="253.40" x2="59.50" y2="258.60" stroke="#111111" stroke-width="2.6" stroke-linecap="round"/>
<line x1="59.50" y1="332.80" x2="59.50" y2="333.20" stroke="#111111" stroke-width="2.6" stroke-linecap="round"/>
<line x1="59.50" y1="337.30" x2="59.50" y2="337.50" stroke="#111111" stroke-width="2.6" stroke-linecap="round"/>
<rect x="47.50" y="287.20" width="25.00" height="18.10" rx="0.9" fill="#fff" stroke="#111111" stroke-width="1.15" stroke-linejoin="round"/>
<line x1="47.50" y1="296.20" x2="72.50" y2="296.20" stroke="#111111" stroke-width="1.2999999999999998" stroke-linecap="butt"/>
<circle cx="59.50" cy="295.50" r="1.05" fill="#111111"/>
<line x1="93.00" y1="263.80" x2="93.00" y2="289.20" stroke="#111111" stroke-width="1.15" stroke-linecap="butt"/>
<line x1="93.00" y1="307.90" x2="93.00" y2="334.70" stroke="#111111" stroke-width="1.15" stroke-linecap="butt"/>
<circle cx="93.00" cy="240.40" r="1.35" fill="#111111"/>
<circle cx="93.00" cy="245.60" r="1.35" fill="#111111"/>
<circle cx="93.00" cy="249.50" r="1.35" fill="#111111"/>
<line x1="93.00" y1="336.00" x2="93.00" y2="346.90" stroke="#111111" stroke-width="2.6" stroke-linecap="round"/>
<rect x="80.50" y="289.20" width="25.00" height="18.70" rx="0.9" fill="#fff" stroke="#111111" stroke-width="1.15" stroke-linejoin="round"/>
<line x1="80.50" y1="298.80" x2="105.50" y2="298.80" stroke="#111111" stroke-width="1.2999999999999998" stroke-linecap="butt"/>
<circle cx="93.00" cy="299.40" r="1.05" fill="#111111"/>
<line x1="133.50" y1="263.30" x2="133.50" y2="300.20" stroke="#111111" stroke-width="1.15" stroke-linecap="butt"/>
<line x1="133.50" y1="324.80" x2="133.50" y2="348.70" stroke="#111111" stroke-width="1.15" stroke-linecap="butt"/>
<circle cx="133.50" cy="223.90" r="1.35" fill="#111111"/>
<line x1="133.50" y1="231.80" x2="133.50" y2="235.70" stroke="#111111" stroke-width="2.6" stroke-linecap="round"/>
<line x1="133.50" y1="240.80" x2="133.50" y2="242.70" stroke="#111111" stroke-width="2.6" stroke-linecap="round"/>
<line x1="133.50" y1="247.30" x2="133.50" y2="248.20" stroke="#111111" stroke-width="2.6" stroke-linecap="round"/>
<circle cx="133.50" cy="251.50" r="1.35" fill="#111111"/>
<line x1="133.50" y1="255.10" x2="133.50" y2="262.00" stroke="#111111" stroke-width="2.6" stroke-linecap="round"/>
<rect x="121.40" y="300.20" width="25.10" height="24.60" rx="0.9" fill="#fff" stroke="#111111" stroke-width="1.15" stroke-linejoin="round"/>
<line x1="121.40" y1="315.30" x2="146.50" y2="315.30" stroke="#111111" stroke-width="1.2999999999999998" stroke-linecap="butt"/>
<circle cx="133.50" cy="311.30" r="1.05" fill="#111111"/>
<line x1="166.40" y1="284.00" x2="166.40" y2="313.50" stroke="#111111" stroke-width="1.15" stroke-linecap="butt"/>
<line x1="166.40" y1="333.40" x2="166.40" y2="348.70" stroke="#111111" stroke-width="1.15" stroke-linecap="butt"/>
<circle cx="166.40" cy="257.00" r="1.35" fill="#111111"/>
<circle cx="166.40" cy="270.80" r="1.35" fill="#111111"/>
<circle cx="166.40" cy="275.50" r="1.35" fill="#111111"/>
<circle cx="166.40" cy="278.30" r="1.35" fill="#111111"/>
<circle cx="166.40" cy="281.10" r="1.35" fill="#111111"/>
<circle cx="166.40" cy="284.00" r="1.35" fill="#111111"/>
<rect x="154.30" y="313.50" width="25.40" height="19.90" rx="0.9" fill="#fff" stroke="#111111" stroke-width="1.15" stroke-linejoin="round"/>
<line x1="154.30" y1="324.80" x2="179.70" y2="324.80" stroke="#111111" stroke-width="1.2999999999999998" stroke-linecap="butt"/>
<circle cx="166.40" cy="322.20" r="1.05" fill="#111111"/>
<line x1="207.70" y1="245.20" x2="207.70" y2="289.30" stroke="#111111" stroke-width="1.15" stroke-linecap="butt"/>
<line x1="207.70" y1="319.30" x2="207.70" y2="348.20" stroke="#111111" stroke-width="1.15" stroke-linecap="butt"/>
<circle cx="207.70" cy="214.90" r="1.35" fill="#111111"/>
<circle cx="207.70" cy="221.80" r="1.35" fill="#111111"/>
<circle cx="207.70" cy="227.00" r="1.35" fill="#111111"/>
<circle cx="207.70" cy="235.25" r="1.35" fill="#111111"/>
<line x1="207.70" y1="242.10" x2="207.70" y2="243.90" stroke="#111111" stroke-width="2.6" stroke-linecap="round"/>
<rect x="194.70" y="289.30" width="26.00" height="30.00" rx="0.9" fill="#fff" stroke="#111111" stroke-width="1.15" stroke-linejoin="round"/>
<line x1="194.70" y1="306.60" x2="220.70" y2="306.60" stroke="#111111" stroke-width="1.2999999999999998" stroke-linecap="butt"/>
<circle cx="207.70" cy="302.80" r="1.05" fill="#111111"/>
<line x1="240.60" y1="253.00" x2="240.60" y2="296.20" stroke="#111111" stroke-width="1.15" stroke-linecap="butt"/>
<line x1="240.60" y1="326.50" x2="240.60" y2="348.20" stroke="#111111" stroke-width="1.15" stroke-linecap="butt"/>
<circle cx="240.60" cy="231.70" r="1.35" fill="#111111"/>
<line x1="240.60" y1="242.70" x2="240.60" y2="245.60" stroke="#111111" stroke-width="2.6" stroke-linecap="round"/>
<circle cx="240.60" cy="250.00" r="1.35" fill="#111111"/>
<rect x="228.10" y="296.20" width="25.60" height="30.30" rx="0.9" fill="#fff" stroke="#111111" stroke-width="1.15" stroke-linejoin="round"/>
<line x1="228.10" y1="311.80" x2="253.70" y2="311.80" stroke="#111111" stroke-width="1.2999999999999998" stroke-linecap="butt"/>
<circle cx="240.60" cy="309.20" r="1.05" fill="#111111"/>
<text transform="translate(50.30,355.00) scale(1,1.02)" x="0" y="0" font-size="11.60" font-weight="normal" fill="#ee1f2a" stroke="#ee1f2a" stroke-width="0.22">609</text>
<text transform="translate(82.53,357.50) scale(1,1.02)" x="0" y="0" font-size="11.60" font-weight="normal" fill="#ee1f2a" stroke="#ee1f2a" stroke-width="0.22">606</text>
<text transform="translate(120.85,356.80) scale(1,1.02)" x="0" y="0" font-size="11.60" font-weight="normal" fill="#ee1f2a" stroke="#ee1f2a" stroke-width="0.22">1457</text>
<text transform="translate(156.88,356.80) scale(1,1.02)" x="0" y="0" font-size="11.60" font-weight="normal" fill="#ee1f2a" stroke="#ee1f2a" stroke-width="0.22">465</text>
<text transform="translate(198.40,357.70) scale(1,1.02)" x="0" y="0" font-size="11.60" font-weight="normal" fill="#ee1f2a" stroke="#ee1f2a" stroke-width="0.22">759</text>
<text transform="translate(230.77,357.70) scale(1,1.02)" x="0" y="0" font-size="11.60" font-weight="normal" fill="#ee1f2a" stroke="#ee1f2a" stroke-width="0.22">255</text>
<text transform="translate(40.57,367.00) scale(1,1.04)" x="0" y="0" font-size="8.00" font-weight="bold" fill="#1c1c1c" stroke="#1c1c1c" stroke-width="0.18">Non-Urban</text>
<text transform="translate(86.58,367.00) scale(1,1.04)" x="0" y="0" font-size="8.00" font-weight="bold" fill="#1c1c1c" stroke="#1c1c1c" stroke-width="0.18">Urban</text>
<text transform="translate(126.90,365.80) scale(1,1.04)" x="0" y="0" font-size="8.00" font-weight="bold" fill="#1c1c1c" stroke="#1c1c1c" stroke-width="0.18">NU</text>
<text transform="translate(164.47,365.80) scale(1,1.04)" x="0" y="0" font-size="8.00" font-weight="bold" fill="#1c1c1c" stroke="#1c1c1c" stroke-width="0.18">U</text>
<text transform="translate(201.45,366.30) scale(1,1.04)" x="0" y="0" font-size="8.00" font-weight="bold" fill="#1c1c1c" stroke="#1c1c1c" stroke-width="0.18">NU</text>
<text transform="translate(238.72,366.30) scale(1,1.04)" x="0" y="0" font-size="8.00" font-weight="bold" fill="#1c1c1c" stroke="#1c1c1c" stroke-width="0.18">U</text>
<text transform="translate(106.64,374.40) scale(1,1.04)" x="0" y="0" font-size="8.00" font-weight="bold" fill="#1c1c1c" stroke="#1c1c1c" stroke-width="0.18">TOAR station category</text>
<text x="268.02" y="201.70" font-size="11.44" font-weight="normal" fill="#1c1c1c">d) 3MMDA1</text>
<rect x="290.50" y="203.70" width="73.25" height="5.90" fill="#cbcbcb"/>
<rect x="290.50" y="209.60" width="73.25" height="149.00" fill="#a9a9a9"/>
<line x1="290.50" y1="356.52" x2="363.75" y2="356.52" stroke="#b6b6b6" stroke-width="0.7" stroke-linecap="butt"/>
<line x1="290.50" y1="314.98" x2="363.75" y2="314.98" stroke="#b6b6b6" stroke-width="0.7" stroke-linecap="butt"/>
<line x1="290.50" y1="273.43" x2="363.75" y2="273.43" stroke="#b6b6b6" stroke-width="0.7" stroke-linecap="butt"/>
<line x1="290.50" y1="231.88" x2="363.75" y2="231.88" stroke="#b6b6b6" stroke-width="0.7" stroke-linecap="butt"/>
<line x1="290.50" y1="335.75" x2="363.75" y2="335.75" stroke="#c4c4c4" stroke-width="1.3" stroke-linecap="butt"/>
<line x1="290.50" y1="294.20" x2="363.75" y2="294.20" stroke="#c4c4c4" stroke-width="1.3" stroke-linecap="butt"/>
<line x1="290.50" y1="252.65" x2="363.75" y2="252.65" stroke="#c4c4c4" stroke-width="1.3" stroke-linecap="butt"/>
<line x1="290.50" y1="211.10" x2="363.75" y2="211.10" stroke="#c4c4c4" stroke-width="1.3" stroke-linecap="butt"/>
<line x1="310.75" y1="209.60" x2="310.75" y2="358.60" stroke="#c2c2c2" stroke-width="1.35" stroke-linecap="butt"/>
<line x1="344.25" y1="209.60" x2="344.25" y2="358.60" stroke="#c2c2c2" stroke-width="1.35" stroke-linecap="butt"/>
<text transform="translate(308.70,209.40) scale(1,1.04)" x="0" y="0" font-size="8.00" font-weight="bold" fill="#1c1c1c" stroke="#1c1c1c" stroke-width="0.18">East Asia</text>
<rect x="365.00" y="203.70" width="72.50" height="5.90" fill="#cbcbcb"/>
<rect x="365.00" y="209.60" width="72.50" height="149.00" fill="#a9a9a9"/>
<line x1="365.00" y1="356.52" x2="437.50" y2="356.52" stroke="#b6b6b6" stroke-width="0.7" stroke-linecap="butt"/>
<line x1="365.00" y1="314.98" x2="437.50" y2="314.98" stroke="#b6b6b6" stroke-width="0.7" stroke-linecap="butt"/>
<line x1="365.00" y1="273.43" x2="437.50" y2="273.43" stroke="#b6b6b6" stroke-width="0.7" stroke-linecap="butt"/>
<line x1="365.00" y1="231.88" x2="437.50" y2="231.88" stroke="#b6b6b6" stroke-width="0.7" stroke-linecap="butt"/>
<line x1="365.00" y1="335.75" x2="437.50" y2="335.75" stroke="#c4c4c4" stroke-width="1.3" stroke-linecap="butt"/>
<line x1="365.00" y1="294.20" x2="437.50" y2="294.20" stroke="#c4c4c4" stroke-width="1.3" stroke-linecap="butt"/>
<line x1="365.00" y1="252.65" x2="437.50" y2="252.65" stroke="#c4c4c4" stroke-width="1.3" stroke-linecap="butt"/>
<line x1="365.00" y1="211.10" x2="437.50" y2="211.10" stroke="#c4c4c4" stroke-width="1.3" stroke-linecap="butt"/>
<line x1="385.10" y1="209.60" x2="385.10" y2="358.60" stroke="#c2c2c2" stroke-width="1.35" stroke-linecap="butt"/>
<line x1="418.30" y1="209.60" x2="418.30" y2="358.60" stroke="#c2c2c2" stroke-width="1.35" stroke-linecap="butt"/>
<text transform="translate(386.49,209.40) scale(1,1.04)" x="0" y="0" font-size="8.00" font-weight="bold" fill="#1c1c1c" stroke="#1c1c1c" stroke-width="0.18">Europe</text>
<rect x="439.00" y="203.70" width="72.50" height="5.90" fill="#cbcbcb"/>
<rect x="439.00" y="209.60" width="72.50" height="149.00" fill="#a9a9a9"/>
<line x1="439.00" y1="356.52" x2="511.50" y2="356.52" stroke="#b6b6b6" stroke-width="0.7" stroke-linecap="butt"/>
<line x1="439.00" y1="314.98" x2="511.50" y2="314.98" stroke="#b6b6b6" stroke-width="0.7" stroke-linecap="butt"/>
<line x1="439.00" y1="273.43" x2="511.50" y2="273.43" stroke="#b6b6b6" stroke-width="0.7" stroke-linecap="butt"/>
<line x1="439.00" y1="231.88" x2="511.50" y2="231.88" stroke="#b6b6b6" stroke-width="0.7" stroke-linecap="butt"/>
<line x1="439.00" y1="335.75" x2="511.50" y2="335.75" stroke="#c4c4c4" stroke-width="1.3" stroke-linecap="butt"/>
<line x1="439.00" y1="294.20" x2="511.50" y2="294.20" stroke="#c4c4c4" stroke-width="1.3" stroke-linecap="butt"/>
<line x1="439.00" y1="252.65" x2="511.50" y2="252.65" stroke="#c4c4c4" stroke-width="1.3" stroke-linecap="butt"/>
<line x1="439.00" y1="211.10" x2="511.50" y2="211.10" stroke="#c4c4c4" stroke-width="1.3" stroke-linecap="butt"/>
<line x1="458.90" y1="209.60" x2="458.90" y2="358.60" stroke="#c2c2c2" stroke-width="1.35" stroke-linecap="butt"/>
<line x1="492.30" y1="209.60" x2="492.30" y2="358.60" stroke="#c2c2c2" stroke-width="1.35" stroke-linecap="butt"/>
<text transform="translate(446.44,209.40) scale(1,1.04)" x="0" y="0" font-size="8.00" font-weight="bold" fill="#1c1c1c" stroke="#1c1c1c" stroke-width="0.18">North America</text>
<text transform="translate(280.02,338.15) scale(1,1.04)" x="0" y="0" font-size="8.00" font-weight="bold" fill="#1c1c1c" stroke="#1c1c1c" stroke-width="0.18">25</text>
<line x1="288.90" y1="335.75" x2="290.50" y2="335.75" stroke="#8a8a8a" stroke-width="0.8" stroke-linecap="butt"/>
<text transform="translate(280.13,296.60) scale(1,1.04)" x="0" y="0" font-size="8.00" font-weight="bold" fill="#1c1c1c" stroke="#1c1c1c" stroke-width="0.18">50</text>
<line x1="288.90" y1="294.20" x2="290.50" y2="294.20" stroke="#8a8a8a" stroke-width="0.8" stroke-linecap="butt"/>
<text transform="translate(280.02,255.05) scale(1,1.04)" x="0" y="0" font-size="8.00" font-weight="bold" fill="#1c1c1c" stroke="#1c1c1c" stroke-width="0.18">75</text>
<line x1="288.90" y1="252.65" x2="290.50" y2="252.65" stroke="#8a8a8a" stroke-width="0.8" stroke-linecap="butt"/>
<text transform="translate(275.68,213.50) scale(1,1.04)" x="0" y="0" font-size="8.00" font-weight="bold" fill="#1c1c1c" stroke="#1c1c1c" stroke-width="0.18">100</text>
<line x1="288.90" y1="211.10" x2="290.50" y2="211.10" stroke="#8a8a8a" stroke-width="0.8" stroke-linecap="butt"/>
<text transform="translate(273.20,322.29) rotate(-90) scale(1,1.0)" x="0" y="0" font-size="8.00" font-weight="bold" fill="#1c1c1c" stroke="#1c1c1c" stroke-width="0.18">Average 3MMDA1 (ppb)</text>
<line x1="310.75" y1="255.00" x2="310.75" y2="274.50" stroke="#111111" stroke-width="1.15" stroke-linecap="butt"/>
<line x1="310.75" y1="286.25" x2="310.75" y2="302.50" stroke="#111111" stroke-width="1.15" stroke-linecap="butt"/>
<circle cx="310.75" cy="216.25" r="1.35" fill="#111111"/>
<circle cx="310.75" cy="237.00" r="1.35" fill="#111111"/>
<line x1="310.75" y1="246.35" x2="310.75" y2="253.65" stroke="#111111" stroke-width="2.7" stroke-linecap="round"/>
<line x1="310.75" y1="303.85" x2="310.75" y2="308.15" stroke="#111111" stroke-width="2.7" stroke-linecap="round"/>
<rect x="298.00" y="274.50" width="25.25" height="11.75" rx="0.9" fill="#fff" stroke="#111111" stroke-width="1.15" stroke-linejoin="round"/>
<line x1="298.00" y1="281.25" x2="323.25" y2="281.25" stroke="#111111" stroke-width="1.2999999999999998" stroke-linecap="butt"/>
<circle cx="310.75" cy="279.50" r="1.05" fill="#111111"/>
<line x1="344.25" y1="253.75" x2="344.25" y2="272.50" stroke="#111111" stroke-width="1.15" stroke-linecap="butt"/>
<line x1="344.25" y1="286.25" x2="344.25" y2="306.25" stroke="#111111" stroke-width="1.15" stroke-linecap="butt"/>
<circle cx="344.25" cy="219.62" r="1.35" fill="#111111"/>
<circle cx="344.25" cy="307.50" r="1.35" fill="#111111"/>
<circle cx="344.25" cy="312.00" r="1.35" fill="#111111"/>
<circle cx="344.25" cy="314.50" r="1.35" fill="#111111"/>
<circle cx="344.25" cy="317.00" r="1.35" fill="#111111"/>
<circle cx="344.25" cy="319.50" r="1.35" fill="#111111"/>
<circle cx="344.25" cy="322.00" r="1.35" fill="#111111"/>
<circle cx="344.25" cy="324.50" r="1.35" fill="#111111"/>
<circle cx="344.25" cy="327.00" r="1.35" fill="#111111"/>
<circle cx="344.25" cy="330.00" r="1.35" fill="#111111"/>
<circle cx="344.25" cy="333.75" r="1.35" fill="#111111"/>
<circle cx="344.25" cy="336.25" r="1.35" fill="#111111"/>
<rect x="331.25" y="272.50" width="25.50" height="13.75" rx="0.9" fill="#fff" stroke="#111111" stroke-width="1.15" stroke-linejoin="round"/>
<line x1="331.25" y1="280.00" x2="356.75" y2="280.00" stroke="#111111" stroke-width="1.2999999999999998" stroke-linecap="butt"/>
<circle cx="344.25" cy="279.50" r="1.05" fill="#111111"/>
<line x1="385.10" y1="260.70" x2="385.10" y2="281.60" stroke="#111111" stroke-width="1.15" stroke-linecap="butt"/>
<line x1="385.10" y1="295.40" x2="385.10" y2="316.50" stroke="#111111" stroke-width="1.15" stroke-linecap="butt"/>
<line x1="385.10" y1="246.55" x2="385.10" y2="259.35" stroke="#111111" stroke-width="2.7" stroke-linecap="round"/>
<line x1="385.10" y1="317.85" x2="385.10" y2="318.25" stroke="#111111" stroke-width="2.7" stroke-linecap="round"/>
<circle cx="385.10" cy="326.60" r="1.35" fill="#111111"/>
<rect x="372.10" y="281.60" width="25.40" height="13.80" rx="0.9" fill="#fff" stroke="#111111" stroke-width="1.15" stroke-linejoin="round"/>
<line x1="372.10" y1="289.70" x2="397.50" y2="289.70" stroke="#111111" stroke-width="1.2999999999999998" stroke-linecap="butt"/>
<circle cx="385.10" cy="288.00" r="1.05" fill="#111111"/>
<line x1="418.30" y1="264.20" x2="418.30" y2="286.80" stroke="#111111" stroke-width="1.15" stroke-linecap="butt"/>
<line x1="418.30" y1="301.80" x2="418.30" y2="322.60" stroke="#111111" stroke-width="1.15" stroke-linecap="butt"/>
<circle cx="418.30" cy="252.00" r="1.35" fill="#111111"/>
<circle cx="418.30" cy="254.50" r="1.35" fill="#111111"/>
<circle cx="418.30" cy="258.00" r="1.35" fill="#111111"/>
<circle cx="418.30" cy="261.50" r="1.35" fill="#111111"/>
<circle cx="418.30" cy="264.20" r="1.35" fill="#111111"/>
<circle cx="418.30" cy="331.70" r="1.35" fill="#111111"/>
<circle cx="418.30" cy="338.10" r="1.35" fill="#111111"/>
<circle cx="418.30" cy="341.60" r="1.35" fill="#111111"/>
<circle cx="418.30" cy="344.20" r="1.35" fill="#111111"/>
<rect x="405.30" y="286.80" width="25.70" height="15.00" rx="0.9" fill="#fff" stroke="#111111" stroke-width="1.15" stroke-linejoin="round"/>
<line x1="405.30" y1="295.40" x2="431.00" y2="295.40" stroke="#111111" stroke-width="1.2999999999999998" stroke-linecap="butt"/>
<circle cx="418.30" cy="293.70" r="1.05" fill="#111111"/>
<line x1="458.90" y1="259.00" x2="458.90" y2="279.40" stroke="#111111" stroke-width="1.15" stroke-linecap="butt"/>
<line x1="458.90" y1="293.70" x2="458.90" y2="314.40" stroke="#111111" stroke-width="1.15" stroke-linecap="butt"/>
<circle cx="458.90" cy="221.00" r="1.35" fill="#111111"/>
<circle cx="458.90" cy="227.50" r="1.35" fill="#111111"/>
<line x1="458.90" y1="235.35" x2="458.90" y2="243.85" stroke="#111111" stroke-width="2.7" stroke-linecap="round"/>
<line x1="458.90" y1="249.95" x2="458.90" y2="257.65" stroke="#111111" stroke-width="2.7" stroke-linecap="round"/>
<line x1="458.90" y1="315.75" x2="458.90" y2="317.75" stroke="#111111" stroke-width="2.7" stroke-linecap="round"/>
<circle cx="458.90" cy="321.70" r="1.35" fill="#111111"/>
<circle cx="458.90" cy="325.50" r="1.35" fill="#111111"/>
<circle cx="458.90" cy="340.70" r="1.35" fill="#111111"/>
<rect x="446.40" y="279.40" width="25.10" height="14.30" rx="0.9" fill="#fff" stroke="#111111" stroke-width="1.15" stroke-linejoin="round"/>
<line x1="446.40" y1="285.30" x2="471.50" y2="285.30" stroke="#111111" stroke-width="1.2999999999999998" stroke-linecap="butt"/>
<circle cx="458.90" cy="286.00" r="1.05" fill="#111111"/>
<line x1="492.30" y1="254.70" x2="492.30" y2="278.40" stroke="#111111" stroke-width="1.15" stroke-linecap="butt"/>
<line x1="492.30" y1="295.40" x2="492.30" y2="318.30" stroke="#111111" stroke-width="1.15" stroke-linecap="butt"/>
<circle cx="492.30" cy="221.80" r="1.35" fill="#111111"/>
<circle cx="492.30" cy="230.50" r="1.35" fill="#111111"/>
<circle cx="492.30" cy="233.00" r="1.35" fill="#111111"/>
<circle cx="492.30" cy="235.50" r="1.35" fill="#111111"/>
<circle cx="492.30" cy="238.50" r="1.35" fill="#111111"/>
<circle cx="492.30" cy="241.70" r="1.35" fill="#111111"/>
<line x1="492.30" y1="251.75" x2="492.30" y2="253.35" stroke="#111111" stroke-width="2.7" stroke-linecap="round"/>
<circle cx="492.30" cy="329.00" r="1.35" fill="#111111"/>
<rect x="479.70" y="278.40" width="25.30" height="17.00" rx="0.9" fill="#fff" stroke="#111111" stroke-width="1.15" stroke-linejoin="round"/>
<line x1="479.70" y1="286.00" x2="505.00" y2="286.00" stroke="#111111" stroke-width="1.2999999999999998" stroke-linecap="butt"/>
<circle cx="492.30" cy="285.70" r="1.05" fill="#111111"/>
<text transform="translate(301.20,354.25) scale(1,1.02)" x="0" y="0" font-size="11.60" font-weight="normal" fill="#ee1f2a" stroke="#ee1f2a" stroke-width="0.22">612</text>
<text transform="translate(334.20,354.00) scale(1,1.02)" x="0" y="0" font-size="11.60" font-weight="normal" fill="#ee1f2a" stroke="#ee1f2a" stroke-width="0.22">617</text>
<text transform="translate(371.31,354.20) scale(1,1.02)" x="0" y="0" font-size="11.60" font-weight="normal" fill="#ee1f2a" stroke="#ee1f2a" stroke-width="0.22">1466</text>
<text transform="translate(408.61,355.10) scale(1,1.02)" x="0" y="0" font-size="11.60" font-weight="normal" fill="#ee1f2a" stroke="#ee1f2a" stroke-width="0.22">469</text>
<text transform="translate(446.75,354.60) scale(1,1.02)" x="0" y="0" font-size="11.60" font-weight="normal" fill="#ee1f2a" stroke="#ee1f2a" stroke-width="0.22">1167</text>
<text transform="translate(482.06,354.60) scale(1,1.02)" x="0" y="0" font-size="11.60" font-weight="normal" fill="#ee1f2a" stroke="#ee1f2a" stroke-width="0.22">303</text>
<text transform="translate(292.07,367.00) scale(1,1.04)" x="0" y="0" font-size="8.00" font-weight="bold" fill="#1c1c1c" stroke="#1c1c1c" stroke-width="0.18">Non-Urban</text>
<text transform="translate(337.45,367.00) scale(1,1.04)" x="0" y="0" font-size="8.00" font-weight="bold" fill="#1c1c1c" stroke="#1c1c1c" stroke-width="0.18">Urban</text>
<text transform="translate(378.45,366.70) scale(1,1.04)" x="0" y="0" font-size="8.00" font-weight="bold" fill="#1c1c1c" stroke="#1c1c1c" stroke-width="0.18">NU</text>
<text transform="translate(415.92,366.70) scale(1,1.04)" x="0" y="0" font-size="8.00" font-weight="bold" fill="#1c1c1c" stroke="#1c1c1c" stroke-width="0.18">U</text>
<text transform="translate(452.85,366.70) scale(1,1.04)" x="0" y="0" font-size="8.00" font-weight="bold" fill="#1c1c1c" stroke="#1c1c1c" stroke-width="0.18">NU</text>
<text transform="translate(490.47,366.70) scale(1,1.04)" x="0" y="0" font-size="8.00" font-weight="bold" fill="#1c1c1c" stroke="#1c1c1c" stroke-width="0.18">U</text>
<text transform="translate(356.09,374.80) scale(1,1.04)" x="0" y="0" font-size="8.00" font-weight="bold" fill="#1c1c1c" stroke="#1c1c1c" stroke-width="0.18">TOAR station category</text>
<text x="143.40" y="392.30" font-size="11.67" font-weight="normal" fill="#1c1c1c">e) AVGMDA8</text>
<rect x="154.40" y="395.70" width="74.40" height="6.10" fill="#cbcbcb"/>
<rect x="154.40" y="401.80" width="74.40" height="148.90" fill="#a9a9a9"/>
<line x1="154.40" y1="534.88" x2="228.80" y2="534.88" stroke="#b6b6b6" stroke-width="0.7" stroke-linecap="butt"/>
<line x1="154.40" y1="496.03" x2="228.80" y2="496.03" stroke="#b6b6b6" stroke-width="0.7" stroke-linecap="butt"/>
<line x1="154.40" y1="457.18" x2="228.80" y2="457.18" stroke="#b6b6b6" stroke-width="0.7" stroke-linecap="butt"/>
<line x1="154.40" y1="418.33" x2="228.80" y2="418.33" stroke="#b6b6b6" stroke-width="0.7" stroke-linecap="butt"/>
<line x1="154.40" y1="515.45" x2="228.80" y2="515.45" stroke="#c4c4c4" stroke-width="1.3" stroke-linecap="butt"/>
<line x1="154.40" y1="476.60" x2="228.80" y2="476.60" stroke="#c4c4c4" stroke-width="1.3" stroke-linecap="butt"/>
<line x1="154.40" y1="437.75" x2="228.80" y2="437.75" stroke="#c4c4c4" stroke-width="1.3" stroke-linecap="butt"/>
<line x1="175.00" y1="401.80" x2="175.00" y2="550.70" stroke="#c2c2c2" stroke-width="1.35" stroke-linecap="butt"/>
<line x1="208.75" y1="401.80" x2="208.75" y2="550.70" stroke="#c2c2c2" stroke-width="1.35" stroke-linecap="butt"/>
<text transform="translate(174.20,401.80) scale(1,1.04)" x="0" y="0" font-size="8.00" font-weight="bold" fill="#1c1c1c" stroke="#1c1c1c" stroke-width="0.18">East Asia</text>
<rect x="230.10" y="395.70" width="73.70" height="6.10" fill="#cbcbcb"/>
<rect x="230.10" y="401.80" width="73.70" height="148.90" fill="#a9a9a9"/>
<line x1="230.10" y1="534.88" x2="303.80" y2="534.88" stroke="#b6b6b6" stroke-width="0.7" stroke-linecap="butt"/>
<line x1="230.10" y1="496.03" x2="303.80" y2="496.03" stroke="#b6b6b6" stroke-width="0.7" stroke-linecap="butt"/>
<line x1="230.10" y1="457.18" x2="303.80" y2="457.18" stroke="#b6b6b6" stroke-width="0.7" stroke-linecap="butt"/>
<line x1="230.10" y1="418.33" x2="303.80" y2="418.33" stroke="#b6b6b6" stroke-width="0.7" stroke-linecap="butt"/>
<line x1="230.10" y1="515.45" x2="303.80" y2="515.45" stroke="#c4c4c4" stroke-width="1.3" stroke-linecap="butt"/>
<line x1="230.10" y1="476.60" x2="303.80" y2="476.60" stroke="#c4c4c4" stroke-width="1.3" stroke-linecap="butt"/>
<line x1="230.10" y1="437.75" x2="303.80" y2="437.75" stroke="#c4c4c4" stroke-width="1.3" stroke-linecap="butt"/>
<line x1="250.10" y1="401.80" x2="250.10" y2="550.70" stroke="#c2c2c2" stroke-width="1.35" stroke-linecap="butt"/>
<line x1="283.80" y1="401.80" x2="283.80" y2="550.70" stroke="#c2c2c2" stroke-width="1.35" stroke-linecap="butt"/>
<text transform="translate(251.99,401.50) scale(1,1.04)" x="0" y="0" font-size="8.00" font-weight="bold" fill="#1c1c1c" stroke="#1c1c1c" stroke-width="0.18">Europe</text>
<rect x="305.10" y="395.70" width="73.90" height="6.10" fill="#cbcbcb"/>
<rect x="305.10" y="401.80" width="73.90" height="148.90" fill="#a9a9a9"/>
<line x1="305.10" y1="534.88" x2="379.00" y2="534.88" stroke="#b6b6b6" stroke-width="0.7" stroke-linecap="butt"/>
<line x1="305.10" y1="496.03" x2="379.00" y2="496.03" stroke="#b6b6b6" stroke-width="0.7" stroke-linecap="butt"/>
<line x1="305.10" y1="457.18" x2="379.00" y2="457.18" stroke="#b6b6b6" stroke-width="0.7" stroke-linecap="butt"/>
<line x1="305.10" y1="418.33" x2="379.00" y2="418.33" stroke="#b6b6b6" stroke-width="0.7" stroke-linecap="butt"/>
<line x1="305.10" y1="515.45" x2="379.00" y2="515.45" stroke="#c4c4c4" stroke-width="1.3" stroke-linecap="butt"/>
<line x1="305.10" y1="476.60" x2="379.00" y2="476.60" stroke="#c4c4c4" stroke-width="1.3" stroke-linecap="butt"/>
<line x1="305.10" y1="437.75" x2="379.00" y2="437.75" stroke="#c4c4c4" stroke-width="1.3" stroke-linecap="butt"/>
<line x1="325.10" y1="401.80" x2="325.10" y2="550.70" stroke="#c2c2c2" stroke-width="1.35" stroke-linecap="butt"/>
<line x1="358.80" y1="401.80" x2="358.80" y2="550.70" stroke="#c2c2c2" stroke-width="1.35" stroke-linecap="butt"/>
<text transform="translate(315.54,401.80) scale(1,1.04)" x="0" y="0" font-size="8.00" font-weight="bold" fill="#1c1c1c" stroke="#1c1c1c" stroke-width="0.18">North America</text>
<text transform="translate(143.63,518.85) scale(1,1.04)" x="0" y="0" font-size="8.00" font-weight="bold" fill="#1c1c1c" stroke="#1c1c1c" stroke-width="0.18">20</text>
<line x1="152.60" y1="515.45" x2="154.40" y2="515.45" stroke="#8a8a8a" stroke-width="0.8" stroke-linecap="butt"/>
<text transform="translate(143.63,480.00) scale(1,1.04)" x="0" y="0" font-size="8.00" font-weight="bold" fill="#1c1c1c" stroke="#1c1c1c" stroke-width="0.18">40</text>
<line x1="152.60" y1="476.60" x2="154.40" y2="476.60" stroke="#8a8a8a" stroke-width="0.8" stroke-linecap="butt"/>
<text transform="translate(143.63,441.15) scale(1,1.04)" x="0" y="0" font-size="8.00" font-weight="bold" fill="#1c1c1c" stroke="#1c1c1c" stroke-width="0.18">60</text>
<line x1="152.60" y1="437.75" x2="154.40" y2="437.75" stroke="#8a8a8a" stroke-width="0.8" stroke-linecap="butt"/>
<text transform="translate(137.00,518.71) rotate(-90) scale(1,1.0)" x="0" y="0" font-size="8.00" font-weight="bold" fill="#1c1c1c" stroke="#1c1c1c" stroke-width="0.18">Average AVGMDA8 (ppb)</text>
<line x1="175.00" y1="443.00" x2="175.00" y2="458.75" stroke="#111111" stroke-width="1.15" stroke-linecap="butt"/>
<line x1="175.00" y1="470.00" x2="175.00" y2="485.60" stroke="#111111" stroke-width="1.15" stroke-linecap="butt"/>
<circle cx="175.00" cy="410.00" r="1.45" fill="#111111"/>
<line x1="175.00" y1="434.30" x2="175.00" y2="435.20" stroke="#111111" stroke-width="2.6" stroke-linecap="round"/>
<circle cx="175.00" cy="439.50" r="1.45" fill="#111111"/>
<circle cx="175.00" cy="442.00" r="1.45" fill="#111111"/>
<line x1="175.00" y1="487.60" x2="175.00" y2="488.00" stroke="#111111" stroke-width="2.6" stroke-linecap="round"/>
<line x1="175.00" y1="492.00" x2="175.00" y2="496.10" stroke="#111111" stroke-width="2.6" stroke-linecap="round"/>
<circle cx="175.00" cy="499.60" r="1.45" fill="#111111"/>
<line x1="175.00" y1="504.30" x2="175.00" y2="507.50" stroke="#111111" stroke-width="2.6" stroke-linecap="round"/>
<rect x="162.50" y="458.75" width="25.50" height="11.25" rx="0.9" fill="#fff" stroke="#111111" stroke-width="1.15" stroke-linejoin="round"/>
<line x1="162.50" y1="463.75" x2="188.00" y2="463.75" stroke="#111111" stroke-width="1.2999999999999998" stroke-linecap="butt"/>
<circle cx="175.00" cy="464.50" r="1.05" fill="#111111"/>
<line x1="208.75" y1="441.25" x2="208.75" y2="457.50" stroke="#111111" stroke-width="1.15" stroke-linecap="butt"/>
<line x1="208.75" y1="469.50" x2="208.75" y2="486.30" stroke="#111111" stroke-width="1.15" stroke-linecap="butt"/>
<circle cx="208.75" cy="427.00" r="1.45" fill="#111111"/>
<circle cx="208.75" cy="432.00" r="1.45" fill="#111111"/>
<circle cx="208.75" cy="438.00" r="1.45" fill="#111111"/>
<line x1="208.75" y1="488.30" x2="208.75" y2="516.00" stroke="#111111" stroke-width="2.6" stroke-linecap="round"/>
<circle cx="208.75" cy="519.90" r="1.45" fill="#111111"/>
<circle cx="208.75" cy="533.90" r="1.45" fill="#111111"/>
<circle cx="208.75" cy="538.40" r="1.45" fill="#111111"/>
<circle cx="208.75" cy="541.20" r="1.45" fill="#111111"/>
<rect x="195.75" y="457.50" width="25.50" height="12.00" rx="0.9" fill="#fff" stroke="#111111" stroke-width="1.15" stroke-linejoin="round"/>
<line x1="195.75" y1="463.00" x2="221.25" y2="463.00" stroke="#111111" stroke-width="1.2999999999999998" stroke-linecap="butt"/>
<circle cx="208.75" cy="465.00" r="1.05" fill="#111111"/>
<line x1="250.10" y1="434.10" x2="250.10" y2="458.30" stroke="#111111" stroke-width="1.15" stroke-linecap="butt"/>
<line x1="250.10" y1="475.30" x2="250.10" y2="498.40" stroke="#111111" stroke-width="1.15" stroke-linecap="butt"/>
<circle cx="250.10" cy="408.20" r="1.45" fill="#111111"/>
<circle cx="250.10" cy="423.70" r="1.45" fill="#111111"/>
<line x1="250.10" y1="427.80" x2="250.10" y2="430.20" stroke="#111111" stroke-width="2.6" stroke-linecap="round"/>
<circle cx="250.10" cy="501.35" r="1.45" fill="#111111"/>
<circle cx="250.10" cy="504.80" r="1.45" fill="#111111"/>
<circle cx="250.10" cy="507.50" r="1.45" fill="#111111"/>
<rect x="237.10" y="458.30" width="26.00" height="17.00" rx="0.9" fill="#fff" stroke="#111111" stroke-width="1.15" stroke-linejoin="round"/>
<line x1="237.10" y1="467.90" x2="263.10" y2="467.90" stroke="#111111" stroke-width="1.2999999999999998" stroke-linecap="butt"/>
<circle cx="250.10" cy="466.60" r="1.05" fill="#111111"/>
<line x1="283.80" y1="439.30" x2="283.80" y2="465.30" stroke="#111111" stroke-width="1.15" stroke-linecap="butt"/>
<line x1="283.80" y1="483.00" x2="283.80" y2="507.90" stroke="#111111" stroke-width="1.15" stroke-linecap="butt"/>
<circle cx="283.80" cy="434.10" r="1.45" fill="#111111"/>
<circle cx="283.80" cy="523.60" r="1.45" fill="#111111"/>
<circle cx="283.80" cy="526.60" r="1.45" fill="#111111"/>
<circle cx="283.80" cy="529.60" r="1.45" fill="#111111"/>
<rect x="270.80" y="465.30" width="25.70" height="17.70" rx="0.9" fill="#fff" stroke="#111111" stroke-width="1.15" stroke-linejoin="round"/>
<line x1="270.80" y1="473.90" x2="296.50" y2="473.90" stroke="#111111" stroke-width="1.2999999999999998" stroke-linecap="butt"/>
<circle cx="283.80" cy="474.80" r="1.05" fill="#111111"/>
<line x1="325.10" y1="431.50" x2="325.10" y2="456.30" stroke="#111111" stroke-width="1.15" stroke-linecap="butt"/>
<line x1="325.10" y1="474.30" x2="325.10" y2="500.10" stroke="#111111" stroke-width="1.15" stroke-linecap="butt"/>
<circle cx="325.10" cy="413.40" r="1.45" fill="#111111"/>
<line x1="325.10" y1="419.80" x2="325.10" y2="428.50" stroke="#111111" stroke-width="2.6" stroke-linecap="round"/>
<circle cx="325.10" cy="501.50" r="1.45" fill="#111111"/>
<circle cx="325.10" cy="504.00" r="1.45" fill="#111111"/>
<circle cx="325.10" cy="506.50" r="1.45" fill="#111111"/>
<circle cx="325.10" cy="509.00" r="1.45" fill="#111111"/>
<circle cx="325.10" cy="512.20" r="1.45" fill="#111111"/>
<circle cx="325.10" cy="520.00" r="1.45" fill="#111111"/>
<rect x="312.10" y="456.30" width="25.90" height="18.00" rx="0.9" fill="#fff" stroke="#111111" stroke-width="1.15" stroke-linejoin="round"/>
<line x1="312.10" y1="463.50" x2="338.00" y2="463.50" stroke="#111111" stroke-width="1.2999999999999998" stroke-linecap="butt"/>
<circle cx="325.10" cy="465.30" r="1.05" fill="#111111"/>
<line x1="358.80" y1="427.20" x2="358.80" y2="457.50" stroke="#111111" stroke-width="1.15" stroke-linecap="butt"/>
<line x1="358.80" y1="477.20" x2="358.80" y2="508.70" stroke="#111111" stroke-width="1.15" stroke-linecap="butt"/>
<circle cx="358.80" cy="416.00" r="1.45" fill="#111111"/>
<circle cx="358.80" cy="425.45" r="1.45" fill="#111111"/>
<circle cx="358.80" cy="510.00" r="1.45" fill="#111111"/>
<rect x="345.80" y="457.50" width="25.70" height="19.70" rx="0.9" fill="#fff" stroke="#111111" stroke-width="1.15" stroke-linejoin="round"/>
<line x1="345.80" y1="466.10" x2="371.50" y2="466.10" stroke="#111111" stroke-width="1.2999999999999998" stroke-linecap="butt"/>
<circle cx="358.80" cy="467.00" r="1.05" fill="#111111"/>
<text transform="translate(164.20,547.00) scale(1,1.02)" x="0" y="0" font-size="11.60" font-weight="normal" fill="#ee1f2a" stroke="#ee1f2a" stroke-width="0.22">612</text>
<text transform="translate(198.45,551.25) scale(1,1.02)" x="0" y="0" font-size="11.60" font-weight="normal" fill="#ee1f2a" stroke="#ee1f2a" stroke-width="0.22">617</text>
<text transform="translate(235.95,548.00) scale(1,1.02)" x="0" y="0" font-size="11.60" font-weight="normal" fill="#ee1f2a" stroke="#ee1f2a" stroke-width="0.22">1465</text>
<text transform="translate(273.74,548.00) scale(1,1.02)" x="0" y="0" font-size="11.60" font-weight="normal" fill="#ee1f2a" stroke="#ee1f2a" stroke-width="0.22">466</text>
<text transform="translate(311.75,547.70) scale(1,1.02)" x="0" y="0" font-size="11.60" font-weight="normal" fill="#ee1f2a" stroke="#ee1f2a" stroke-width="0.22">1165</text>
<text transform="translate(348.31,547.70) scale(1,1.02)" x="0" y="0" font-size="11.60" font-weight="normal" fill="#ee1f2a" stroke="#ee1f2a" stroke-width="0.22">303</text>
<text transform="translate(156.57,559.25) scale(1,1.04)" x="0" y="0" font-size="8.00" font-weight="bold" fill="#1c1c1c" stroke="#1c1c1c" stroke-width="0.18">Non-Urban</text>
<text transform="translate(202.45,559.25) scale(1,1.04)" x="0" y="0" font-size="8.00" font-weight="bold" fill="#1c1c1c" stroke="#1c1c1c" stroke-width="0.18">Urban</text>
<text transform="translate(243.45,558.90) scale(1,1.04)" x="0" y="0" font-size="8.00" font-weight="bold" fill="#1c1c1c" stroke="#1c1c1c" stroke-width="0.18">NU</text>
<text transform="translate(280.67,558.90) scale(1,1.04)" x="0" y="0" font-size="8.00" font-weight="bold" fill="#1c1c1c" stroke="#1c1c1c" stroke-width="0.18">U</text>
<text transform="translate(318.00,559.50) scale(1,1.04)" x="0" y="0" font-size="8.00" font-weight="bold" fill="#1c1c1c" stroke="#1c1c1c" stroke-width="0.18">NU</text>
<text transform="translate(355.42,559.50) scale(1,1.04)" x="0" y="0" font-size="8.00" font-weight="bold" fill="#1c1c1c" stroke="#1c1c1c" stroke-width="0.18">U</text>
<text transform="translate(225.89,565.90) scale(1,1.04)" x="0" y="0" font-size="8.00" font-weight="bold" fill="#1c1c1c" stroke="#1c1c1c" stroke-width="0.18">TOAR station category</text>
</svg>
</body></html>
